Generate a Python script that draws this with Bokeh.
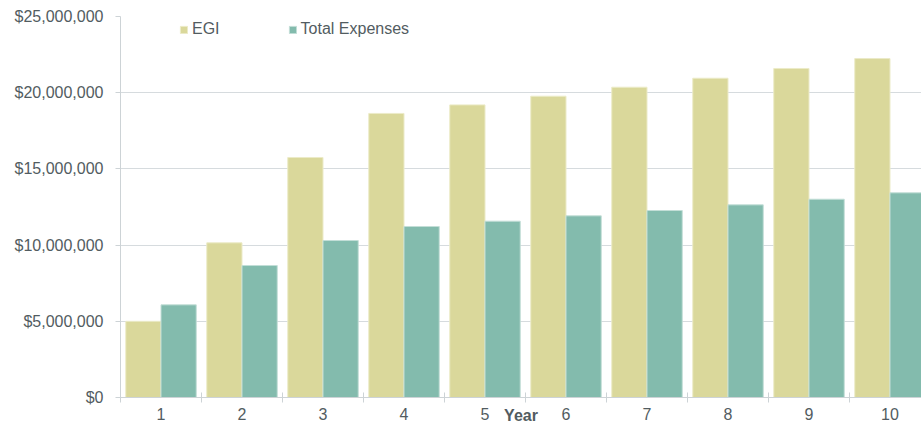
from bokeh.plotting import figure
from bokeh.models import Range1d, FixedTicker, NumeralTickFormatter, Legend, LegendItem, ColumnDataSource
from bokeh.embed import file_html
from bokeh.resources import INLINE

years = ["1", "2", "3", "4", "5", "6", "7", "8", "9", "10"]
egi = [5.0e6, 10.15e6, 15.75e6, 18.64e6, 19.2e6, 19.77e6, 20.36e6, 20.95e6, 21.59e6, 22.24e6]
expenses = [6.08e6, 8.66e6, 10.3e6, 11.22e6, 11.57e6, 11.92e6, 12.27e6, 12.64e6, 13.01e6, 13.43e6]
y_ticks = [0, 5e6, 10e6, 15e6, 20e6, 25e6]

FONT = "Liberation Sans"
TXT = "#525c61"
AXC = "#cdd3d6"

centers = [i + 0.5 for i in range(len(years))]
bw = 0.435
src = ColumnDataSource(dict(
    x_egi=[c - bw / 2 for c in centers],
    x_exp=[c + bw / 2 for c in centers],
    egi=egi, exp=expenses,
))

p = figure(width=921, height=426, output_backend="svg", toolbar_location=None,
           x_range=Range1d(0, 801 / 81), y_range=Range1d(0, 25e6),
           min_border_left=120, min_border_right=0, min_border_top=16, min_border_bottom=29)
p.outline_line_color = None
p.background_fill_color = "white"
p.border_fill_color = "white"

r1 = p.vbar(x="x_egi", top="egi", width=bw, source=src, fill_color="#dad89b", line_color="#ecebc8", line_width=1)
r2 = p.vbar(x="x_exp", top="exp", width=bw, source=src, fill_color="#83bbad", line_color="#c3ded7", line_width=1)

# x axis
xa = p.xaxis[0]
xa.ticker = FixedTicker(ticks=centers, minor_ticks=list(range(len(years) + 1)))
xa.major_label_overrides = {c: y for c, y in zip(centers, years)}
xa.major_tick_line_color = None
xa.major_tick_in = 0
xa.major_tick_out = 5
xa.minor_tick_in = 5
xa.minor_tick_out = 5
xa.minor_tick_line_color = AXC
xa.axis_line_color = AXC
xa.major_label_text_font = FONT
xa.major_label_text_font_size = "16px"
xa.major_label_text_color = TXT
xa.major_label_standoff = 5
xa.axis_label = "Year"
xa.axis_label_text_font = FONT
xa.axis_label_text_font_size = "16px"
xa.axis_label_text_font_style = "bold"
xa.axis_label_text_color = TXT
xa.axis_label_standoff = -16

# y axis
ya = p.yaxis[0]
ya.ticker = FixedTicker(ticks=y_ticks)
ya.formatter = NumeralTickFormatter(format="$0,0")
ya.major_tick_in = 0
ya.major_tick_out = 5
ya.minor_tick_line_color = None
ya.major_tick_line_color = AXC
ya.axis_line_color = AXC
ya.major_label_text_font = FONT
ya.major_label_text_font_size = "16px"
ya.major_label_text_color = TXT
ya.major_label_standoff = 12

p.xgrid.grid_line_color = None
p.ygrid.grid_line_color = "#d6dbde"
p.ygrid.grid_line_width = 1

legend = Legend(items=[LegendItem(label="EGI", renderers=[r1]),
                       LegendItem(label="Total Expenses", renderers=[r2])],
                orientation="horizontal", location=(59, 359),
                glyph_width=9, glyph_height=9, label_standoff=4, spacing=68,
                padding=0, margin=0, border_line_color=None, background_fill_alpha=0,
                label_text_font=FONT, label_text_font_size="16px", label_text_color=TXT,
                label_height=18)
p.add_layout(legend, "center")

open("out.html", "w").write(file_html(p, INLINE))
